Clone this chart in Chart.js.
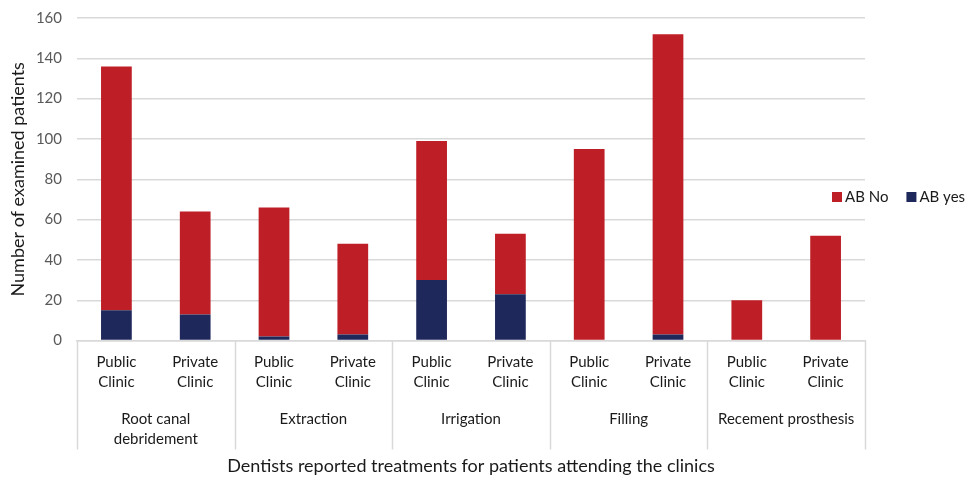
<!DOCTYPE html>
<html>
<head>
<meta charset="utf-8">
<script src="https://cdn.jsdelivr.net/npm/chart.js@4.4.1/dist/chart.umd.min.js"></script>
<style>
  html, body { margin: 0; padding: 0; background: #fff; }
  #wrap { width: 967px; height: 478px; }
</style>
</head>
<body>
<div id="wrap"><canvas id="c" width="967" height="478"></canvas></div>
<script>
// Clinic type under each bar, and the treatment group every pair belongs to
const clinics = [
  ['Public', 'Clinic'], ['Private', 'Clinic'],
  ['Public', 'Clinic'], ['Private', 'Clinic'],
  ['Public', 'Clinic'], ['Private', 'Clinic'],
  ['Public', 'Clinic'], ['Private', 'Clinic'],
  ['Public', 'Clinic'], ['Private', 'Clinic']
];
const treatments = [['Root canal', 'debridement'], 'Extraction', 'Irrigation', 'Filling', 'Recement prosthesis'];

// Patients per clinic, split by antibiotic prescription
const abYes = [15, 13, 2, 3, 30, 23, 0, 3, 0, 0];
const abNo  = [121, 51, 64, 45, 69, 30, 95, 149, 20, 52];

const yMin = 0, yMax = 160, yStep = 20;

const RED = '#BE1E26';
const NAVY = '#1F285A';
const GRID = '#D9D9D9';
const FONT = 'Lato, "Open Sans", sans-serif';

// Vertical separators between treatment groups, running down through the label rows
const groupSeparators = {
  id: 'groupSeparators',
  afterDraw(chart) {
    const x = chart.scales.x, x2 = chart.scales.x2;
    const ctx = chart.ctx;
    ctx.save();
    ctx.strokeStyle = GRID;
    ctx.lineWidth = 1.5;
    for (let g = 0; g <= treatments.length; g++) {
      const px = Math.round(x.getPixelForValue(g * 2 - 0.5)) + 0.5;
      ctx.beginPath();
      ctx.moveTo(px, chart.chartArea.bottom);
      ctx.lineTo(px, x2.top + 45);
      ctx.stroke();
    }
    ctx.restore();
  }
};

// Single-row legend at the right edge of the plot
const sideLegend = {
  id: 'sideLegend',
  afterDraw(chart) {
    const ctx = chart.ctx, a = chart.chartArea;
    const items = [...chart.data.datasets].reverse();
    ctx.save();
    ctx.font = '15px ' + FONT;
    ctx.textBaseline = 'middle';
    ctx.textAlign = 'left';
    let px = a.right - 33;
    const cy = 197;
    items.forEach(ds => {
      ctx.fillStyle = ds.backgroundColor;
      ctx.fillRect(px, cy - 5, 10, 10);
      ctx.fillStyle = '#1a1a1a';
      ctx.fillText(ds.label, px + 13, cy);
      px += 13 + ctx.measureText(ds.label).width + 18;
    });
    ctx.restore();
  }
};

new Chart(document.getElementById('c'), {
  type: 'bar',
  data: {
    labels: clinics,
    datasets: [
      { label: 'AB yes', data: abYes, backgroundColor: NAVY },
      { label: 'AB No', data: abNo, backgroundColor: RED }
    ]
  },
  options: {
    responsive: false,
    animation: false,
    layout: { padding: { left: 0, right: 102, top: 18, bottom: 0 } },
    datasets: { bar: { categoryPercentage: 1, barPercentage: 0.39 } },
    plugins: { legend: { display: false }, tooltip: { enabled: false } },
    scales: {
      x: {
        stacked: true,
        weight: 0,
        offset: true,
        grid: { display: false, drawTicks: false },
        border: { display: true, color: GRID, width: 1.5 },
        ticks: {
          padding: 12,
          color: '#1a1a1a',
          maxRotation: 0,
          autoSkip: false,
          font: { family: FONT, size: 15, lineHeight: 1.33 }
        }
      },
      x2: {
        type: 'category',
        labels: treatments,
        position: 'bottom',
        weight: 1,
        offset: true,
        grid: { display: false, drawTicks: false },
        border: { display: false },
        ticks: {
          padding: 5,
          color: '#1a1a1a',
          maxRotation: 0,
          autoSkip: false,
          font: { family: FONT, size: 15, lineHeight: 1.33 }
        },
        title: {
          display: true,
          text: 'Dentists reported treatments for patients attending the clinics',
          color: '#1a1a1a',
          font: { family: FONT, size: 18, lineHeight: 1.2 },
          padding: { top: 1, bottom: 1 }
        }
      },
      y: {
        stacked: true,
        min: yMin,
        max: yMax,
        afterFit(scale) {
          scale.width = 77;
          scale.paddingTop = 0;
          scale.paddingBottom = 0;
        },
        grid: { color: GRID, lineWidth: 1.5, drawTicks: false },
        border: { display: false },
        ticks: {
          stepSize: yStep,
          padding: 15,
          color: '#595959',
          font: { family: FONT, size: 15 }
        },
        title: {
          display: true,
          text: 'Number of examined patients',
          color: '#1a1a1a',
          font: { family: FONT, size: 18, lineHeight: 1.2 },
          padding: { top: 7, bottom: 0 }
        }
      }
    }
  },
  plugins: [groupSeparators, sideLegend]
});
</script>
</body>
</html>
